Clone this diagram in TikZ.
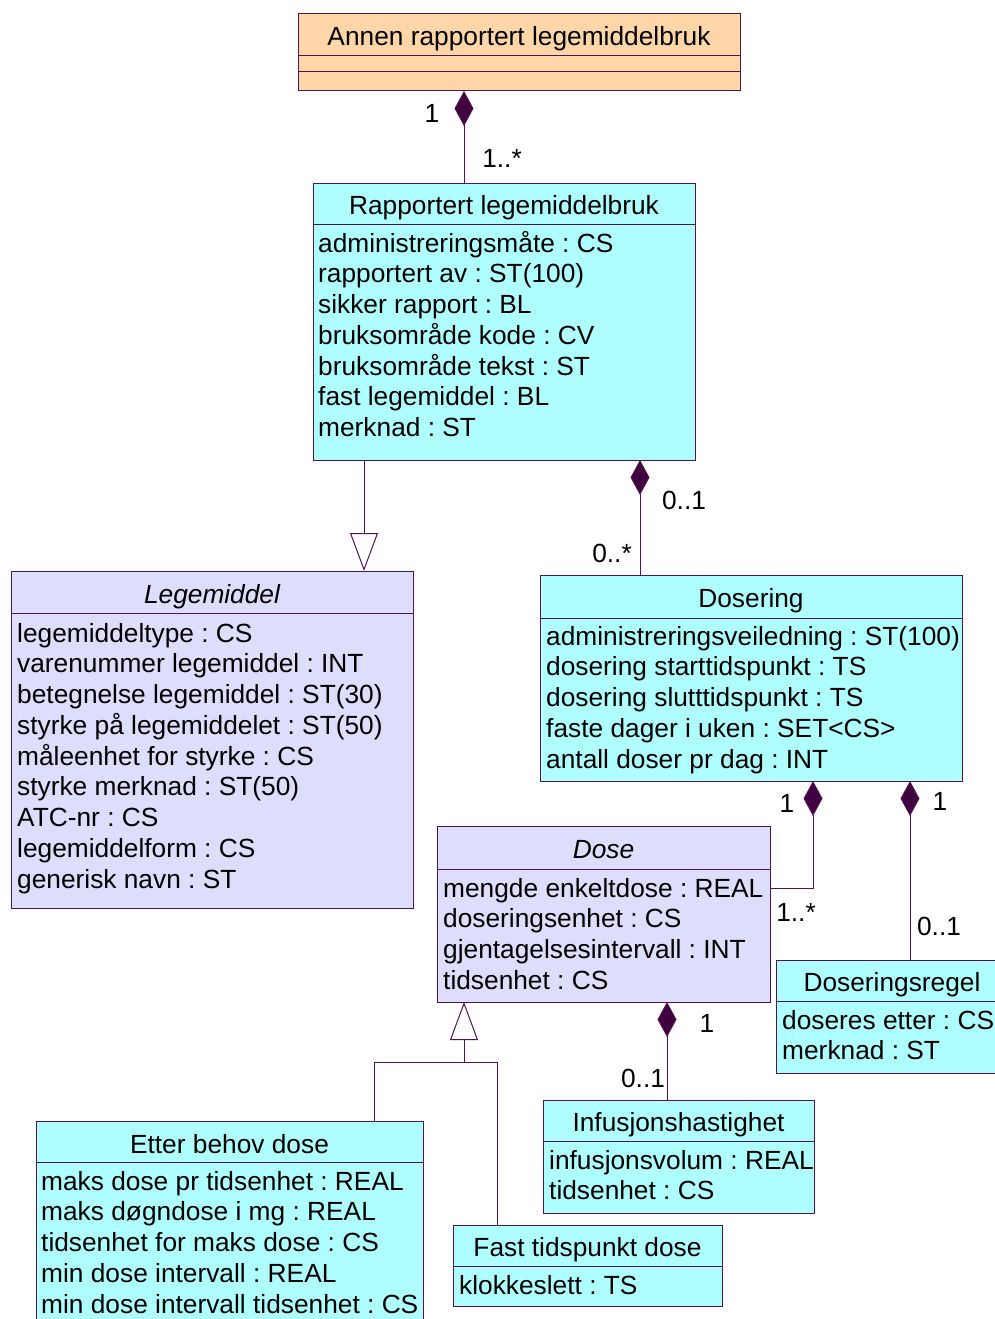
\documentclass[tikz,border=0pt]{standalone}
\usepackage{fontspec}
\setmainfont{Liberation Sans}
\usetikzlibrary{arrows.meta,calc}
\definecolor{cyanfill}{RGB}{175,255,255}
\definecolor{lavfill}{RGB}{221,221,252}
\definecolor{peachfill}{RGB}{255,214,168}
\definecolor{umlline}{RGB}{80,20,80}
\definecolor{dfill}{RGB}{64,0,64}
\begin{document}
\frenchspacing
\begin{tikzpicture}[x=1pt,y=-1pt,
  every node/.style={font=\fontsize{26.3}{30.75}\selectfont},
  clsbox/.style={draw=umlline, line width=1pt, inner sep=0pt, outer sep=0pt, anchor=north west},
  sepline/.style={draw=umlline, line width=1pt},
  ttl/.style={anchor=base, inner sep=0pt},
  attr/.style={anchor=base west, inner sep=0pt},
  mult/.style={inner sep=0pt},
  conn/.style={draw=umlline, line width=1pt},
  comp/.style={conn, -{Diamond[width=19pt 0 0,length=35pt 0 0,fill=dfill]}},
  gen/.style={conn, -{Triangle[width=28pt 0 0,length=38pt 0 0,open,fill=white]}}
]
\useasboundingbox (0,0) rectangle (995,1319);

% ---------- Annen rapportert legemiddelbruk
\node[clsbox, fill=peachfill, minimum width=442pt, minimum height=77pt] (A) at (298,14) {};
\draw[sepline] ($(A.north west)+(0,42)$) -- ($(A.north east)+(0,42)$);
\draw[sepline] ($(A.north west)+(0,58)$) -- ($(A.north east)+(0,58)$);
\node[ttl] (At) at ($(A.north)+(0,32)$) {Annen rapportert legemiddelbruk};

% ---------- Rapportert legemiddelbruk
\node[clsbox, fill=cyanfill, minimum width=382pt, minimum height=277pt] (B) at (313,183) {};
\draw[sepline] ($(B.north west)+(0,41)$) -- ($(B.north east)+(0,41)$);
\node[ttl] (Bt) at ($(B.north)+(0,31)$) {Rapportert legemiddelbruk};
\foreach \t [count=\i from 0] in {administreringsmåte : CS, rapportert av : ST(100), sikker rapport : BL, bruksområde kode : CV, bruksområde tekst : ST, fast legemiddel : BL, merknad : ST}
  \node[attr] (B-\i) at ($(B.north west)+(5,69+30.75*\i)$) {\t};

% ---------- Legemiddel
\node[clsbox, fill=lavfill, minimum width=402pt, minimum height=337pt] (L) at (11,571) {};
\draw[sepline] ($(L.north west)+(0,42)$) -- ($(L.north east)+(0,42)$);
\node[ttl] (Lt) at ($(L.north)+(0,32)$) {\itshape Legemiddel};
\foreach \t [count=\i from 0] in {legemiddeltype : CS, varenummer legemiddel : INT, betegnelse legemiddel : ST(30), styrke på legemiddelet : ST(50), måleenhet for styrke : CS, styrke merknad : ST(50), ATC-nr : CS, legemiddelform : CS, generisk navn : ST}
  \node[attr] (L-\i) at ($(L.north west)+(6,71+30.75*\i)$) {\t};

% ---------- Dosering
\node[clsbox, fill=cyanfill, minimum width=422pt, minimum height=206pt] (D) at (540,575) {};
\draw[sepline] ($(D.north west)+(0,43)$) -- ($(D.north east)+(0,43)$);
\node[ttl] (Dt) at ($(D.north)+(0,32)$) {Dosering};
\foreach \t [count=\i from 0] in {administreringsveiledning : ST(100), dosering starttidspunkt : TS, dosering slutttidspunkt : TS, faste dager i uken : SET<CS>, antall doser pr dag : INT}
  \node[attr] (D-\i) at ($(D.north west)+(6,70+30.75*\i)$) {\t};

% ---------- Dose
\node[clsbox, fill=lavfill, minimum width=333pt, minimum height=176pt] (E) at (437,826) {};
\draw[sepline] ($(E.north west)+(0,43)$) -- ($(E.north east)+(0,43)$);
\node[ttl] (Et) at ($(E.north)+(0,32)$) {\itshape Dose};
\foreach \t [count=\i from 0] in {mengde enkeltdose : REAL, doseringsenhet : CS, gjentagelsesintervall : INT, tidsenhet : CS}
  \node[attr] (E-\i) at ($(E.north west)+(6,71+30.75*\i)$) {\t};

% ---------- Doseringsregel
\node[clsbox, fill=cyanfill, minimum width=232pt, minimum height=113pt] (R) at (776,960) {};
\draw[sepline] ($(R.north west)+(0,41)$) -- ($(R.north east)+(0,41)$);
\node[ttl] (Rt) at ($(R.north)+(0,31)$) {Doseringsregel};
\foreach \t [count=\i from 0] in {doseres etter : CS, merknad : ST}
  \node[attr] (R-\i) at ($(R.north west)+(6,69+30.75*\i)$) {\t};

% ---------- Infusjonshastighet
\node[clsbox, fill=cyanfill, minimum width=271pt, minimum height=113pt] (I) at (543,1100) {};
\draw[sepline] ($(I.north west)+(0,41)$) -- ($(I.north east)+(0,41)$);
\node[ttl] (It) at ($(I.north)+(0,31)$) {Infusjonshastighet};
\foreach \t [count=\i from 0] in {infusjonsvolum : REAL, tidsenhet : CS}
  \node[attr] (I-\i) at ($(I.north west)+(6,69+30.75*\i)$) {\t};

% ---------- Etter behov dose
\node[clsbox, fill=cyanfill, minimum width=387pt, minimum height=215pt] (P) at (36,1121) {};
\draw[sepline] ($(P.north west)+(0,41)$) -- ($(P.north east)+(0,41)$);
\node[ttl] (Pt) at ($(P.north)+(0,32)$) {Etter behov dose};
\foreach \t [count=\i from 0] in {maks dose pr tidsenhet : REAL, maks døgndose i mg : REAL, tidsenhet for maks dose : CS, min dose intervall : REAL, min dose intervall tidsenhet : CS}
  \node[attr] (P-\i) at ($(P.north west)+(5,69+30.75*\i)$) {\t};

% ---------- Fast tidspunkt dose
\node[clsbox, fill=cyanfill, minimum width=269pt, minimum height=81pt] (F) at (453,1225) {};
\draw[sepline] ($(F.north west)+(0,41)$) -- ($(F.north east)+(0,41)$);
\node[ttl] (Ft) at ($(F.north)+(0,31)$) {Fast tidspunkt dose};
\node[attr] (F-0) at ($(F.north west)+(6,69)$) {klokkeslett : TS};

% ---------- connectors
\coordinate (cA) at (464,0);
\coordinate (cL) at (364,0);
\coordinate (cD) at (640,0);
\coordinate (k1) at (813,888);
\coordinate (cR) at (910,0);
\coordinate (cI) at (667,0);
\coordinate (j) at (464,1062);
\coordinate (k2) at (374,1062);
\coordinate (k3) at (497,1062);

\draw[comp] (B.north -| cA) -- (A.south -| cA);
\draw[gen] (B.south -| cL) -- (L.north -| cL);
\draw[comp] (D.north -| cD) -- (B.south -| cD);
\draw[comp] (E.east |- k1) -- (k1) -- (D.south -| k1);
\draw[comp] (R.north -| cR) -- (D.south -| cR);
\draw[comp] (I.north -| cI) -- (E.south -| cI);
\draw[gen] (j) -- (E.south -| j);
\draw[conn] (P.north -| k2) -- (k2) -- (k3) -- (F.north -| k3);

% ---------- multiplicities
\node[mult] (m1) at (432,113) {1};
\node[mult] (m2) at (502,158) {1..*};
\node[mult] (m3) at (684,500) {0..1};
\node[mult] (m4) at (612,553) {0..*};
\node[mult] (m5) at (787,803) {1};
\node[mult] (m6) at (940,801) {1};
\node[mult] (m7) at (796,912) {1..*};
\node[mult] (m8) at (939,926) {0..1};
\node[mult] (m9) at (707,1023) {1};
\node[mult] (m10) at (643,1078) {0..1};
\end{tikzpicture}
\end{document}
